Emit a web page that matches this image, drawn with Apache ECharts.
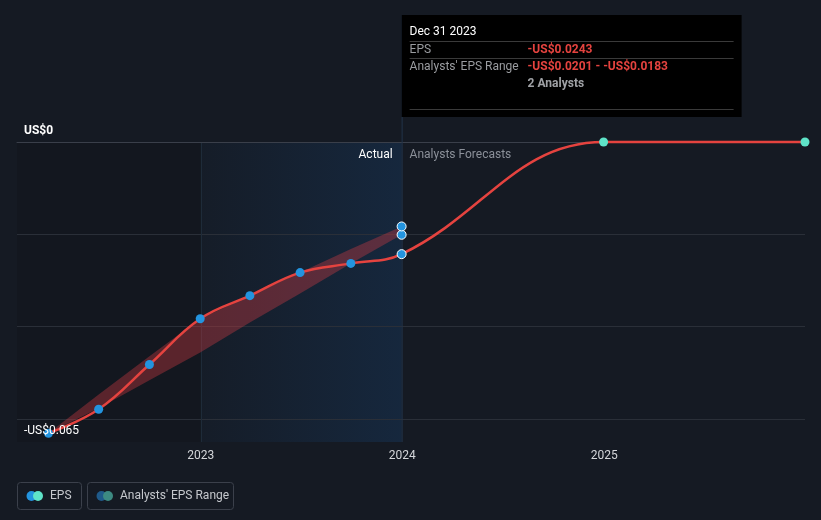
<!DOCTYPE html>
<html><head><meta charset="utf-8">
<script src="https://cdn.jsdelivr.net/npm/echarts@6/dist/echarts.min.js"></script>
<style>html,body{margin:0;padding:0;background:#151a23;}#c{width:821px;height:520px;}</style>
</head><body><div id="c"></div>
<script>
// ---- data ----
const actualDates = ['2022-03-31','2022-06-30','2022-09-30','2022-12-31','2023-03-31','2023-06-30','2023-09-30','2023-12-31'];
const actualEps = [-0.0631,-0.0579,-0.0482,-0.0383,-0.0333,-0.0283,-0.0263,-0.0243];
const forecastDates = ['2024-12-31','2025-12-31'];
const forecastEps = [0, 0];
const rangeDates = ['2022-03-31','2022-06-30','2022-09-30','2022-12-31','2023-03-31','2023-06-30','2023-09-30','2023-12-31'];
const rangeLow = [-0.0631,-0.0577,-0.0516,-0.0456,-0.0391,-0.0328,-0.0263,-0.0201];
const rangeHigh = [-0.0631,-0.0547,-0.0464,-0.0383,-0.0333,-0.0283,-0.0232,-0.0183];
const yGridValues = [0,-0.02,-0.04,-0.06];
const yLabelValues = [0,-0.065];
const yLabelTexts = ['US$0','-US$0.065'];
const actualStart = '2023-01-01';
const actualEnd = '2023-12-31';
const tipTitle = 'Dec 31 2023';
const tipRows = [['EPS','-US$0.0243'],["Analysts' EPS Range",'-US$0.0201 - -US$0.0183'],['','2 Analysts']];
const legendItems = ['EPS',"Analysts' EPS Range"];

const BLUE='#2394df', TEAL='#5fe3c8', RED='#e5433f';
const FONT='Roboto';
const chart = echarts.init(document.getElementById('c'), null, {renderer:'canvas'});

const lastIdx = actualDates.length-1;
const epsData = actualDates.map((d,i)=>({value:[d,actualEps[i]], itemStyle:{color:BLUE, borderColor: i===lastIdx?'#ffffff':BLUE, borderWidth: i===lastIdx?1:0}}))
  .concat(forecastDates.map((d,i)=>({value:[d,forecastEps[i]], itemStyle:{color:TEAL, borderColor:TEAL, borderWidth:0}})));

const option = {
  backgroundColor:'#151a23',
  animation:false,
  textStyle:{fontFamily:FONT},
  grid:{left:17,right:16,top:142,bottom:78,containLabel:false},
  xAxis:{type:'time',min:'2022-02-02',max:'2025-12-31',minInterval:365*24*3600*1000,
    axisLine:{show:true,lineStyle:{color:'#3a3f4a',width:1}},
    axisTick:{show:false},splitLine:{show:false},
    axisLabel:{color:'#d4d6da',fontSize:12,margin:8,fontFamily:FONT,
      formatter:function(v){const d=new Date(v);return (d.getMonth()===0&&d.getDate()===1)?String(d.getFullYear()):'';}}},
  yAxis:{type:'value',min:-0.065,max:0,axisLine:{show:false},axisTick:{show:false},axisLabel:{show:false},splitLine:{show:false}},
  series:[
    {name:'bg',type:'line',data:actualDates.map((d,i)=>[d,actualEps[i]]),showSymbol:false,lineStyle:{opacity:0},z:0,silent:true,
     markArea:{silent:true,z:0,data:[[{xAxis:'2022-02-02',itemStyle:{color:'rgba(0,0,0,0.09)'}},{xAxis:actualStart}],
       [{xAxis:actualStart,itemStyle:{color:new echarts.graphic.LinearGradient(0,0,1,0,[{offset:0,color:'rgba(25,105,190,0.03)'},{offset:1,color:'rgba(25,105,190,0.17)'}])}},{xAxis:actualEnd}]]},
     markLine:{silent:true,z:0,symbol:'none',label:{show:false},
       data:yGridValues.map(v=>({yAxis:v,lineStyle:{color:v===0?'#3b404a':'#2a2f38',width:1,type:'solid'}}))
         .concat([{xAxis:actualStart,lineStyle:{color:'#1e2b39',width:1,type:'solid'}}])}},
    {name:'low',type:'line',stack:'range',stackStrategy:'all',data:rangeDates.map((d,i)=>[d,rangeLow[i]]),showSymbol:false,lineStyle:{opacity:0},z:1,silent:true},
    {name:'range',type:'line',stack:'range',stackStrategy:'all',data:rangeDates.map((d,i)=>[d,rangeHigh[i]-rangeLow[i]]),showSymbol:false,lineStyle:{opacity:0},
      areaStyle:{color:'rgba(215,60,70,0.36)',opacity:1},z:1,silent:true},
    {name:'EPS',type:'line',data:epsData,smooth:0.4,symbol:'circle',symbolSize:9,showSymbol:true,
      lineStyle:{color:RED,width:2.5},z:4,clip:false},
    {name:'rangeEnds',type:'scatter',data:[[rangeDates[lastIdx],rangeLow[lastIdx]],[rangeDates[lastIdx],rangeHigh[lastIdx]]],
      symbolSize:9,itemStyle:{color:BLUE,borderColor:'#ffffff',borderWidth:1,opacity:1},z:5}
  ]
};
chart.setOption(option);

// ---- decorations positioned through the chart's scales ----
const xEnd = chart.convertToPixel({xAxisIndex:0},actualEnd);
const yPix = v=>chart.convertToPixel({yAxisIndex:0},v);
const yBottom = yPix(-0.065), yTop = yPix(0);
const g = [];
g.push({type:'line',shape:{x1:xEnd+0.5,y1:15,x2:xEnd+0.5,y2:yBottom},style:{stroke:'#22344a',lineWidth:1},z:2});
yLabelValues.forEach((v,i)=>{
  g.push({type:'text',x:24,y:yPix(v)-11,style:{text:yLabelTexts[i],fill:'#ffffff',font:(i===0?'bold ':'')+'12px '+FONT,textVerticalAlign:'middle'},z:10});
});
g.push({type:'text',x:xEnd-9,y:yTop+13,style:{text:'Actual',fill:'#ffffff',font:'12px '+FONT,textAlign:'right',textVerticalAlign:'middle'},z:10});
g.push({type:'text',x:xEnd+8,y:yTop+13,style:{text:'Analysts Forecasts',fill:'#8b9099',font:'12px '+FONT,textAlign:'left',textVerticalAlign:'middle'},z:10});
const tx = xEnd;
g.push({type:'rect',shape:{x:tx,y:15,width:340,height:102},style:{fill:'#000000'},z:20});
g.push({type:'text',x:tx+8,y:32,style:{text:tipTitle,fill:'#ffffff',font:'12px '+FONT,textVerticalAlign:'middle'},z:21});
[41,58,109].forEach(yy=>g.push({type:'line',shape:{x1:tx+8,y1:yy+0.5,x2:tx+332,y2:yy+0.5},style:{stroke:'#3a3a3a',lineWidth:1},z:21}));
const rowY=[50,67,84];
tipRows.forEach((r,i)=>{
  if(r[0]) g.push({type:'text',x:tx+8,y:rowY[i],style:{text:r[0],fill:'#9a9ca0',font:'12px '+FONT,textVerticalAlign:'middle'},z:21});
  g.push({type:'text',x:tx+126,y:rowY[i],style:{text:r[1],fill:i<2?'#e5433f':'#a0a2a6',font:'bold 12px '+FONT,textVerticalAlign:'middle'},z:21});
});
const lg=[{x:17,w:64,c1:BLUE,c2:TEAL},{x:87,w:146,c1:'#1f5a8a',c2:'#3d8a82'}];
lg.forEach((l,i)=>{
  g.push({type:'rect',shape:{x:l.x+0.5,y:482.5,width:l.w,height:27,r:3},style:{fill:'none',stroke:'#3b404b',lineWidth:1},z:10});
  g.push({type:'circle',shape:{cx:l.x+14.5,cy:496,r:5},style:{fill:l.c1},z:11});
  g.push({type:'circle',shape:{cx:l.x+21,cy:496,r:5},style:{fill:l.c2},z:12});
  g.push({type:'text',x:l.x+33,y:496,style:{text:legendItems[i],fill:'#c5c8cd',font:'12px '+FONT,textVerticalAlign:'middle'},z:11});
});
chart.setOption({graphic:g});
</script></body></html>
